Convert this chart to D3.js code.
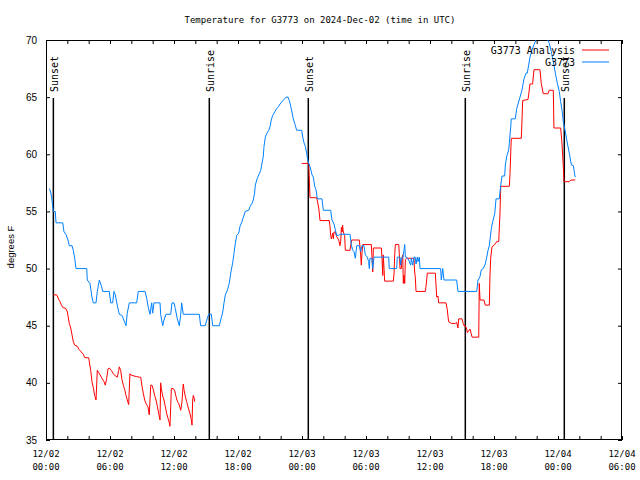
<!DOCTYPE html>
<html><head><meta charset="utf-8">
<script src="https://cdn.jsdelivr.net/npm/d3@7"></script>
<style>
html,body{margin:0;padding:0;background:#fff;}
svg{display:block;}
.mono{font-family:"DejaVu Sans Mono","Liberation Mono",monospace;}
.sans{font-family:"Liberation Sans",Arial,sans-serif;}
</style></head>
<body>
<script>
// ---- data (hours since 2024-12-02 00:00 UTC, degrees F) ----
const title = "Temperature for G3773 on 2024-Dec-02 (time in UTC)";
const yLabel = "degrees F";
const seriesNames = ["G3773 Analysis", "G3773"];
const seriesColors = ["#ff0000", "#0080ff"];

const obsHours = [0.31,0.44,0.56,0.63,0.68,0.87,0.94,1.57,1.69,1.87,2.06,2.18,2.44,2.56,2.69,2.81,3.82,3.87,4.12,4.31,4.43,4.69,4.81,5.00,5.18,5.32,5.93,6.07,6.25,6.37,6.50,6.68,6.87,7.12,7.25,7.50,7.62,7.81,8.50,8.65,9.28,9.44,9.59,9.75,9.91,10.00,10.12,10.69,10.75,10.94,11.06,11.25,11.69,11.81,12.00,12.12,12.31,12.50,12.63,12.72,12.87,14.37,14.50,14.93,15.07,15.25,15.50,15.63,16.25,16.38,16.57,16.69,16.81,17.00,17.18,17.32,17.50,17.62,17.75,17.88,18.07,18.19,18.37,18.50,18.68,19.00,19.12,19.31,19.43,19.56,19.62,19.81,20.00,20.13,20.25,20.37,20.44,20.56,20.69,20.88,21.00,21.12,21.25,21.44,21.63,21.82,21.94,22.12,22.31,22.50,22.69,22.81,22.94,23.06,23.18,23.32,23.50,23.97,24.07,24.19,24.31,24.44,24.50,24.63,24.75,24.87,24.94,25.06,25.19,25.31,25.44,25.87,26.00,26.69,26.81,27.00,27.12,27.25,27.44,27.56,28.50,28.62,28.75,28.87,29.00,29.13,29.37,29.50,29.62,29.81,29.94,30.12,30.25,30.31,30.37,30.56,30.63,30.75,32.13,32.18,32.88,32.93,33.19,33.25,33.31,33.44,33.56,33.63,33.69,33.81,34.00,34.19,34.25,34.38,34.50,34.62,34.69,34.81,34.87,35.00,35.06,37.00,37.06,37.19,37.31,38.50,38.62,40.38,40.50,40.69,40.81,41.00,41.18,41.32,41.44,41.56,41.62,41.75,41.88,42.07,42.19,42.50,42.63,42.75,43.00,43.06,43.19,43.38,43.44,43.57,43.62,44.00,44.13,44.44,44.62,44.81,45.00,45.12,45.25,45.37,45.56,45.75,45.94,46.12,46.41,46.78,47.00,47.18,47.37,47.56,47.75,47.94,48.12,48.25,48.37,48.50,48.68,48.87,49.06,49.25,49.44,49.57,49.62];
const obsTemps = [57.0,56.7,56.0,55.4,55.0,55.0,54.0,54.0,53.2,53.0,52.5,52.0,52.0,51.6,50.9,50.0,50.0,49.0,48.7,47.5,47.0,47.0,48.0,49.0,48.5,48.0,48.0,47.0,47.0,48.0,47.7,46.8,46.0,45.9,45.6,45.0,46.1,47.0,47.0,48.0,48.0,47.4,46.6,46.0,47.0,46.1,47.0,47.0,46.0,45.0,45.5,46.0,46.0,47.0,47.0,46.5,45.6,45.0,46.0,47.0,46.0,46.0,45.0,45.0,45.5,46.0,46.0,45.0,45.0,45.5,46.2,47.0,47.7,48.1,48.7,49.6,50.5,51.3,52.2,52.9,53.1,53.7,54.1,54.5,55.0,55.1,55.4,55.7,56.0,56.6,57.3,57.9,58.3,58.6,59.2,59.8,60.7,61.5,61.8,62.1,62.4,63.0,63.4,63.7,64.0,64.2,64.4,64.6,64.8,65.0,65.0,64.7,64.2,63.7,63.1,62.7,62.1,62.1,61.5,61.0,60.7,60.1,59.7,59.2,58.9,58.5,58.2,58.0,57.2,56.9,56.1,56.1,55.1,55.1,54.25,53.9,53.4,52.9,52.9,53.0,53.0,52.1,51.6,51.5,50.9,52.0,52.0,51.5,52.0,52.0,51.2,51.0,50.6,50.0,50.9,50.9,50.0,51.0,51.0,50.0,50.0,51.0,51.0,50.3,50.9,50.9,51.6,52.1,51.0,51.0,50.75,50.3,50.9,50.3,51.0,51.0,50.4,51.0,50.6,51.0,50.0,50.0,49.0,50.0,49.0,49.0,48.0,48.0,49.0,49.3,49.9,50.0,50.4,51.0,51.6,52.0,52.5,53.5,54.1,54.8,56.1,56.1,57.3,58.1,58.1,59.06,59.8,60.4,61.0,62.4,63.1,63.1,64.0,65.0,65.6,66.6,67.1,67.1,67.8,68.5,69.1,69.6,70.0,70.6,71.0,70.5,70.1,69.7,69.0,68.1,67.1,66.2,65.5,64.6,63.9,62.85,62.0,61.0,60.1,59.06,59.0,58.2,58.0];

const anaHours1 = [0.68,1.00,1.06,1.19,1.31,1.43,1.57,1.87,2.00,2.06,2.18,2.32,2.44,2.56,2.69,2.93,3.12,3.31,3.50,3.63,4.00,4.06,4.19,4.31,4.43,4.57,4.69,4.75,4.81,4.94,5.13,5.25,5.44,5.56,5.69,5.81,5.93,6.12,6.31,6.50,6.68,6.82,6.87,7.00,7.12,7.25,7.38,7.50,7.62,7.75,7.87,7.94,8.25,8.50,8.75,8.88,9.00,9.12,9.25,9.37,9.56,9.68,9.75,9.82,9.94,10.06,10.19,10.31,10.44,10.57,10.69,10.75,10.81,10.94,11.06,11.18,11.32,11.44,11.56,11.62,11.69,11.75,11.93,12.07,12.19,12.31,12.44,12.56,12.63,12.75,12.81,12.87,12.94,13.06,13.19,13.31,13.50,13.62,13.69,13.75,13.81,13.87,13.94];
const anaTemps1 = [47.7,47.7,47.6,47.3,47.1,46.85,46.6,46.5,46.2,45.9,45.2,44.8,44.2,43.6,43.3,43.2,42.9,42.7,42.5,42.2,42.2,41.85,41.1,40.1,39.6,38.9,38.5,39.8,41.1,40.9,40.6,40.4,40.1,39.8,40.4,41.2,41.3,41.1,40.8,40.6,40.5,41.1,41.4,41.1,40.3,39.8,39.4,38.9,38.5,38.1,40.8,40.7,40.6,40.55,40.5,40.5,39.7,39.1,38.5,38.2,37.9,37.2,38.5,39.8,39.8,39.4,38.9,38.5,37.95,37.3,36.75,40.0,39.5,38.85,38.5,37.95,37.3,36.9,36.5,36.2,37.9,39.5,39.5,39.3,38.8,38.4,38.2,37.85,37.6,38.35,39.2,39.9,39.4,38.8,38.35,37.9,37.3,36.8,36.3,38.5,38.9,38.75,38.35];

const anaHours2 = [23.97,24.63,24.75,25.38,25.57,25.69,26.56,26.62,26.69,26.75,26.88,26.94,27.00,27.12,27.25,27.44,27.56,27.63,27.69,27.75,27.81,27.87,28.00,28.06,28.50,28.56,28.66,29.37,29.44,29.50,29.56,29.62,29.69,30.50,30.56,30.63,30.69,31.44,31.50,31.57,31.62,31.69,31.75,32.56,32.63,32.69,32.75,33.07,33.12,33.19,33.31,33.37,33.44,33.50,33.56,33.63,33.69,33.81,34.50,34.56,34.62,34.69,35.56,35.62,35.69,35.75,36.50,36.56,36.63,36.75,36.81,37.50,37.62,37.69,37.75,38.00,38.37,38.50,38.62,38.69,39.00,39.12,39.19,39.31,39.44,39.50,39.75,39.87,39.94,40.57,40.62,40.69,41.06,41.18,41.56,41.62,41.69,41.81,42.07,42.25,42.44,42.56,42.63,43.44,43.50,43.62,44.56,44.63,44.69,45.19,45.25,45.37,45.62,45.75,46.31,46.43,46.62,47.06,47.18,47.56,47.62,48.25,48.37,48.50,48.56,49.06,49.19,49.62];
const anaTemps2 = [59.2,59.2,56.2,56.2,55.3,54.2,54.2,53.7,52.9,52.6,53.1,52.6,53.2,53.2,52.8,52.5,52.0,52.4,53.6,53.2,53.8,53.2,52.9,51.6,51.6,52.0,52.5,52.5,51.9,51.2,50.3,51.3,52.1,52.1,51.0,49.7,51.8,51.8,50.9,49.4,51.2,50.0,48.9,48.9,49.6,51.2,52.1,52.1,51.3,50.0,50.0,50.9,51.2,48.7,49.4,48.7,50.8,50.9,50.9,49.7,49.3,48.0,48.0,48.4,49.0,49.6,49.6,48.6,47.5,47.6,47.0,47.0,46.4,45.8,45.35,45.2,45.2,45.3,44.8,45.6,45.6,45.2,45.0,45.0,44.7,44.4,44.7,44.3,44.0,44.0,48.7,47.25,47.25,46.8,46.8,49.35,50.9,51.9,52.1,52.35,52.35,54.8,57.2,57.2,58.3,61.4,61.4,63.1,64.7,64.8,65.2,66.15,66.15,67.4,67.4,66.2,65.3,65.3,65.6,65.6,62.3,62.3,61.0,58.9,57.6,57.6,57.75,57.75];

const eventLabels = ["Sunset","Sunrise","Sunset","Sunrise","Sunset"];
const eventHours = [0.69, 15.31, 24.59, 39.31, 48.59];

const yTicks = [35,40,45,50,55,60,65,70];

// ---- drawing ----
const W = 640, H = 480;
const M = {left:46, right:622, top:40, bottom:440};
const t0 = Date.UTC(2024, 11, 2, 0, 0);
const toDate = h => new Date(t0 + h * 3600e3);

const svg = d3.select("body").append("svg").attr("width", W).attr("height", H);

const x = d3.scaleUtc().domain([toDate(0), toDate(54)]).range([M.left, M.right]);
const y = d3.scaleLinear().domain([35, 70]).range([M.bottom, M.top]);

svg.append("defs").append("clipPath").attr("id","clip")
  .append("rect").attr("x",M.left).attr("y",M.top)
  .attr("width",M.right-M.left).attr("height",M.bottom-M.top);

// title
svg.append("text").attr("class","mono").attr("x", 320).attr("y", 23)
  .attr("text-anchor","middle").attr("font-size", 9).text(title);

// y label
svg.append("text").attr("class","sans")
  .attr("transform","translate(14,247) rotate(-90)")
  .attr("text-anchor","middle").attr("font-size", 9.5).text(yLabel);

// axes
const majorTicks = d3.utcHour.every(6).range(toDate(0), toDate(54.01));
const minorTicks = d3.utcHour.every(2).range(toDate(0), toDate(54.01));
const fmtD = d3.utcFormat("%m/%d"), fmtT = d3.utcFormat("%H:%M");

const xAxisB = d3.axisBottom(x).tickValues(minorTicks).tickSize(-4).tickFormat("");
const xAxisT = d3.axisTop(x).tickValues(minorTicks).tickSize(-4).tickFormat("");
const yAxisL = d3.axisLeft(y).tickValues(yTicks).tickSize(-4).tickFormat("");
const yAxisR = d3.axisRight(y).tickValues(yTicks).tickSize(-4).tickFormat("");

function styleAxis(g){
  g.select(".domain").remove();
  g.selectAll("line").attr("stroke","#000").attr("stroke-width",1);
}
svg.append("g").attr("transform",`translate(0,${M.bottom})`).call(xAxisB).call(styleAxis);
svg.append("g").attr("transform",`translate(0,${M.top})`).call(xAxisT).call(styleAxis);
svg.append("g").attr("transform",`translate(${M.left},0)`).call(yAxisL).call(styleAxis);
svg.append("g").attr("transform",`translate(${M.right},0)`).call(yAxisR).call(styleAxis);

// tick labels
const xl = svg.append("g").attr("class","mono").attr("font-size",9).attr("fill","#000");
majorTicks.forEach(d => {
  const t = xl.append("text").attr("x", x(d)).attr("text-anchor","middle");
  t.append("tspan").attr("x", x(d)).attr("y", 457).text(fmtD(d));
  t.append("tspan").attr("x", x(d)).attr("y", 470).text(fmtT(d));
});
const yl = svg.append("g").attr("class","sans").attr("font-size",10);
yTicks.forEach(v => {
  yl.append("text").attr("x", 37).attr("y", y(v) + 3.5).attr("text-anchor","end").text(v);
});

// frame
svg.append("rect").attr("x",M.left+0.5).attr("y",M.top+0.5)
  .attr("width",M.right-M.left-1).attr("height",M.bottom-M.top-1)
  .attr("fill","none").attr("stroke","#000").attr("stroke-width",1);

// events
const ev = svg.append("g");
eventHours.forEach((h, i) => {
  const px = x(toDate(h));
  ev.append("line").attr("x1",px).attr("x2",px).attr("y1",98).attr("y2",M.bottom)
    .attr("stroke","#000").attr("stroke-width",1.5);
  ev.append("text").attr("class","mono").attr("font-size",10)
    .attr("transform",`translate(${px+4.5},92) rotate(-90)`)
    .attr("text-anchor","start").text(eventLabels[i]);
});

// series
const line = d3.line().x(d => x(toDate(d[0]))).y(d => y(d[1]));
const plot = svg.append("g").attr("clip-path","url(#clip)");
const zip = (a,b) => a.map((v,i) => [v, b[i]]);
plot.append("path").datum(zip(anaHours1, anaTemps1)).attr("d", line)
  .attr("fill","none").attr("stroke",seriesColors[0]).attr("stroke-width",1);
plot.append("path").datum(zip(anaHours2, anaTemps2)).attr("d", line)
  .attr("fill","none").attr("stroke",seriesColors[0]).attr("stroke-width",1);
plot.append("path").datum(zip(obsHours, obsTemps)).attr("d", line)
  .attr("fill","none").attr("stroke",seriesColors[1]).attr("stroke-width",1);

// legend
const lg = svg.append("g").attr("class","mono").attr("font-size",10);
seriesNames.forEach((n, i) => {
  const ly = 50 + i * 12;
  lg.append("text").attr("x", 575).attr("y", ly + 3.5).attr("text-anchor","end").text(n);
  lg.append("line").attr("x1",582).attr("x2",609).attr("y1",ly).attr("y2",ly)
    .attr("stroke",seriesColors[i]).attr("stroke-width",1);
});
</script>
</body></html>
